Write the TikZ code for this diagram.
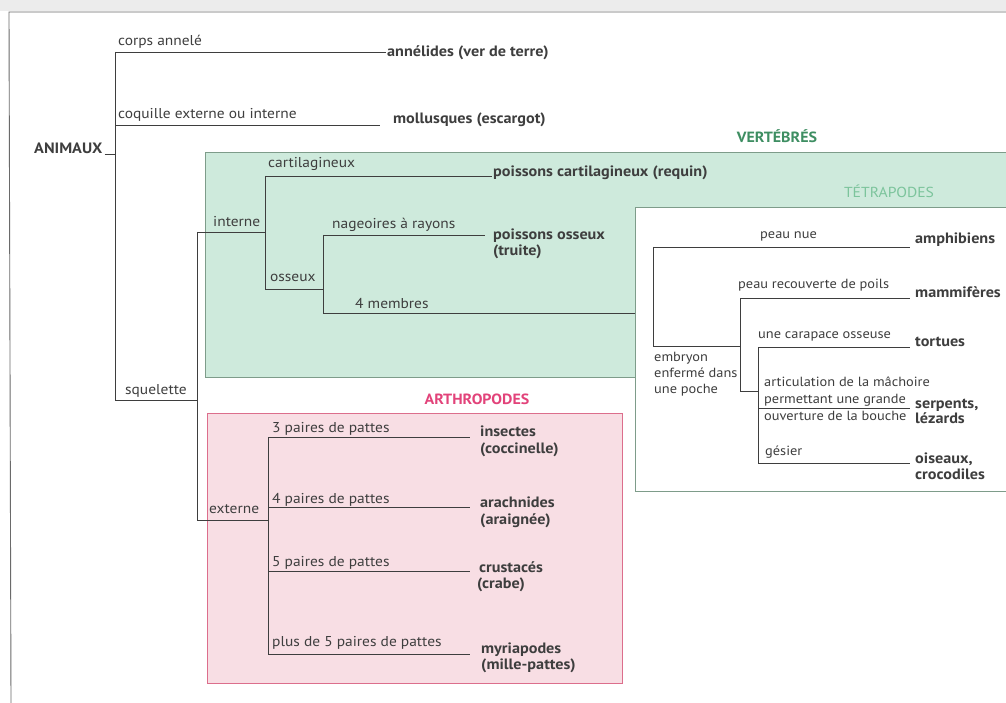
\documentclass[tikz,border=0pt]{standalone}
\usepackage{fontspec}
\setmainfont[FakeStretch=1.08]{PT Sans}
\definecolor{ink}{HTML}{3E3E3E}
\definecolor{pagegray}{HTML}{ECECEC}
\definecolor{framec}{HTML}{6A6A6A}
\definecolor{vfill}{HTML}{CEEADC}
\definecolor{vline}{HTML}{7E9C8A}
\definecolor{vtitle}{HTML}{3E8E62}
\definecolor{ttitle}{HTML}{7CC49C}
\definecolor{afill}{HTML}{F8DEE4}
\definecolor{aline}{HTML}{DC6E8C}
\definecolor{atitle}{HTML}{E2437A}
\begin{document}
\begin{tikzpicture}[x=1pt,y=-1pt,
  br/.style={draw=ink, line width=0.9pt},
  lab/.style={anchor=base west, inner sep=0pt, text=ink, font=\fontsize{14.3}{16}\selectfont},
  tlab/.style={lab, font=\fontsize{13.3}{15}\selectfont},
  leaf/.style={anchor=base west, inner sep=0pt, text=ink, font=\fontsize{15}{16}\selectfont\bfseries},
  ttl/.style={anchor=base, inner sep=0pt, font=\fontsize{14.8}{16}\selectfont\bfseries},
]
\useasboundingbox (0,0) rectangle (1006,703);
\fill[white] (0,0) rectangle (1006,703);
\fill[pagegray] (0,0) rectangle (1006,11);
\draw[framec, line width=0.9pt] (1006,12) -- (9,12) -- (11,703);

% boxes
\draw[fill=vfill, draw=vline, line width=0.9pt] (205,152) rectangle (1010,377);
\draw[fill=white, draw=vline, line width=0.9pt] (635,207) rectangle (1010,491);
\draw[fill=afill, draw=aline, line width=0.9pt] (207,413) rectangle (622,683);

% titles
\node[ttl, text=vtitle] (tvert) at (777,143) {VERTÉBRÉS};
\node[ttl, text=ttitle, font=\fontsize{14.5}{16}\selectfont] (ttetra) at (889,198) {TÉTRAPODES};
\node[ttl, text=atitle] (tarth) at (477,404) {ARTHROPODES};

% root
\node[leaf] (anim) at (34,154) {ANIMAUX};
\coordinate (t0) at (115,52);
\coordinate (t1) at (115,125);
\coordinate (t2) at (115,400);
\draw[br] (anim.base east) ++(2,0) -- (anim.base east -| t0);
\draw[br] (t0) -- (t2) -- (197,400);

% annelides / mollusques
\node[lab] (l1) at (118,46) {corps annelé};
\node[leaf] (f1) at (387,57) {annélides (ver de terre)};
\draw[br] (t0) -- (386,52);
\node[lab] (l2) at (118,119) {coquille externe ou interne};
\node[leaf] (f2) at (393,124) {mollusques (escargot)};
\draw[br] (t1) -- (380,125);
\node[lab] (l3) at (125,394) {squelette};

% skeleton split
\coordinate (s0) at (197,232);
\coordinate (s1) at (197,520);
\draw[br] (s0) -- (s1);
\node[lab] (l4) at (213,227) {interne};
\draw[br] (s0) -- (265,232);
\node[lab] (l5) at (209,513) {externe};
\draw[br] (s1) -- (268,520);

% vertebrates
\coordinate (v0) at (265,176);
\coordinate (v1) at (265,289);
\draw[br] (v0) -- (v1);
\node[lab] (l6) at (268,168) {cartilagineux};
\node[leaf] (f3) at (493,177) {poissons cartilagineux (requin)};
\draw[br] (v0) -- (492,176);
\node[lab] (l7) at (270,282) {osseux};
\coordinate (o0) at (323,235);
\coordinate (o1) at (323,313);
\draw[br] (v1) -- (323,289);
\draw[br] (o0) -- (o1);
\node[lab] (l8) at (332,229) {nageoires à rayons};
\node[leaf] (f4a) at (493,240) {poissons osseux};
\node[leaf] (f4b) at (493,256) {(truite)};
\draw[br] (o0) -- (485,235);
\node[lab] (l9) at (355,308) {4 membres};
\draw[br] (o1) -- (635,313);

% tetrapodes
\coordinate (e0) at (653,247);
\coordinate (e1) at (653,346);
\draw[br] (e0) -- (e1) -- (740,346);
\node[tlab] (l10) at (760,239) {peau nue};
\node[leaf] (f5) at (915,244) {amphibiens};
\draw[br] (e0) -- (910,247);
\node[tlab] (l11a) at (654,361) {embryon};
\node[tlab] (l11b) at (654,377) {enfermé dans};
\node[tlab] (l11c) at (654,393) {une poche};
\coordinate (m0) at (740,298);
\coordinate (m1) at (740,391);
\draw[br] (m0) -- (m1) -- (758,391);
\node[tlab] (l12) at (738,288) {peau recouverte de poils};
\node[leaf] (f6) at (915,298) {mammifères};
\draw[br] (m0) -- (910,298);
\coordinate (r0) at (758,347);
\coordinate (r1) at (758,463);
\draw[br] (r0) -- (r1);
\node[tlab] (l13) at (758,338) {une carapace osseuse};
\node[leaf] (f7) at (915,346) {tortues};
\draw[br] (r0) -- (910,347);
\node[tlab] (l14a) at (764,386) {articulation de la mâchoire};
\node[tlab] (l14b) at (764,403) {permettant une grande};
\node[tlab] (l14c) at (764,420) {ouverture de la bouche};
\node[leaf] (f8a) at (915,408) {serpents,};
\node[leaf] (f8b) at (915,423) {lézards};
\draw[br] (758,408) -- (910,408);
\node[tlab] (l15) at (765,455) {gésier};
\node[leaf] (f9a) at (915,463) {oiseaux,};
\node[leaf] (f9b) at (915,479) {crocodiles};
\draw[br] (r1) -- (910,463);

% arthropodes
\coordinate (a0) at (268,437);
\coordinate (a1) at (268,654);
\draw[br] (a0) -- (a1);
\node[lab] (l16) at (272,432) {3 paires de pattes};
\node[leaf] (f10a) at (480,436) {insectes};
\node[leaf] (f10b) at (480,453) {(coccinelle)};
\draw[br] (a0) -- (470,437);
\node[lab] (l17) at (272,503) {4 paires de pattes};
\node[leaf] (f11a) at (480,507) {arachnides};
\node[leaf] (f11b) at (480,524) {(araignée)};
\draw[br] (268,507) -- (470,507);
\node[lab] (l18) at (272,566) {5 paires de pattes};
\node[leaf] (f12a) at (479,572) {crustacés};
\node[leaf] (f12b) at (477,588) {(crabe)};
\draw[br] (268,571) -- (470,571);
\node[lab] (l19) at (272,646) {plus de 5 paires de pattes};
\node[leaf] (f13a) at (481,653) {myriapodes};
\node[leaf] (f13b) at (481,669) {(mille-pattes)};
\draw[br] (a1) -- (470,654);
\end{tikzpicture}
\end{document}
